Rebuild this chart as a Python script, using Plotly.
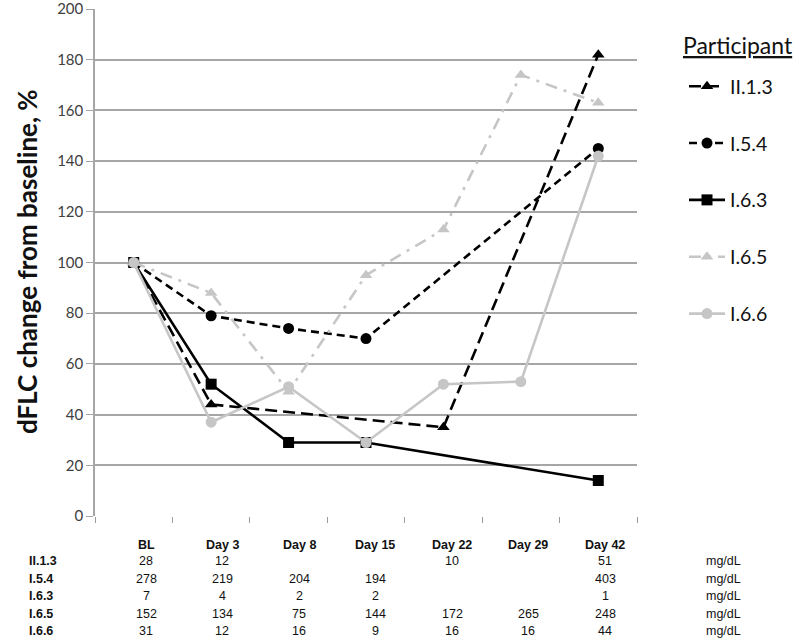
import plotly.graph_objects as go

categories = ["BL", "Day 3", "Day 8", "Day 15", "Day 22", "Day 29", "Day 42"]
participants = ["II.1.3", "I.5.4", "I.6.3", "I.6.5", "I.6.6"]

pct_II13 = [100, 44, None, None, 35, None, 182]
pct_I54 = [100, 79, 74, 70, None, None, 145]
pct_I63 = [100, 52, 29, 29, None, None, 14]
pct_I65 = [100, 88, 49, 95, 113, 174, 163]
pct_I66 = [100, 37, 51, 29, 52, 53, 142]

tbl_II13 = ["28", "12", "", "", "10", "", "51"]
tbl_I54 = ["278", "219", "204", "194", "", "", "403"]
tbl_I63 = ["7", "4", "2", "2", "", "", "1"]
tbl_I65 = ["152", "134", "75", "144", "172", "265", "248"]
tbl_I66 = ["31", "12", "16", "9", "16", "16", "44"]
unit = "mg/dL"

series = [pct_II13, pct_I54, pct_I63, pct_I65, pct_I66]
tables = [tbl_II13, tbl_I54, tbl_I63, tbl_I65, tbl_I66]

BLACK = "#000000"
GRAY = "#c6c6c6"
styles = [
    dict(color=BLACK, dash="12px,6px", symbol="triangle-up"),
    dict(color=BLACK, dash="8px,5px", symbol="circle"),
    dict(color=BLACK, dash="solid", symbol="square"),
    dict(color=GRAY, dash="12px,7px,3px,7px", symbol="triangle-up"),
    dict(color=GRAY, dash="solid", symbol="circle"),
]

fig = go.Figure()
for name, vals, st in zip(participants, series, styles):
    fig.add_trace(go.Scatter(
        x=categories, y=vals, name=name, mode="lines+markers",
        connectgaps=True, legendgroup=name,
        line=dict(color=st["color"], dash=st["dash"], width=2.6),
        marker=dict(symbol=st["symbol"], size=11, color=st["color"]),
    ))

# plot area pixels: x 95..637, y 9..516
L, R, T, B = 95, 637, 9, 516
W, H = 800, 642

def px_x(p):
    return (p - L) / (R - L)

def px_y(p):
    return (B - p) / (B - T)

ann = []
tfont = dict(family="Liberation Sans Narrow, Liberation Sans, Arial", size=12.5, color="#111")
col_px = [146, 222, 299, 375, 452, 528, 605]
header_y = 545
row_ys = [561, 579, 596, 614, 631]
for c, xp in zip(categories, col_px):
    ann.append(dict(text="<b>%s</b>" % c, x=px_x(xp), y=px_y(header_y), xref="paper", yref="paper",
                    showarrow=False, font=tfont, xanchor="center", yanchor="middle"))
for name, row, yp in zip(participants, tables, row_ys):
    ann.append(dict(text="<b>%s</b>" % name, x=px_x(27), y=px_y(yp), xref="paper", yref="paper",
                    showarrow=False, font=tfont, xanchor="left", yanchor="middle"))
    for v, xp in zip(row, col_px):
        if v:
            ann.append(dict(text=v, x=px_x(xp), y=px_y(yp), xref="paper", yref="paper",
                            showarrow=False, font=tfont, xanchor="center", yanchor="middle"))
    ann.append(dict(text=unit, x=px_x(723), y=px_y(yp), xref="paper", yref="paper",
                    showarrow=False, font=tfont, xanchor="center", yanchor="middle"))

ann.append(dict(text="<b>dFLC change from baseline, %</b>", x=px_x(27), y=px_y(262),
                xref="paper", yref="paper", showarrow=False, textangle=-90,
                font=dict(family="Lato, Open Sans, Liberation Sans", size=26, color="#111"),
                xanchor="center", yanchor="middle"))

ann.append(dict(text="<u>Participant</u>", x=px_x(681), y=px_y(45),
                xref="paper", yref="paper", showarrow=False,
                font=dict(family="Lato, Open Sans, Liberation Sans", size=23, color="#111"),
                xanchor="left", yanchor="middle"))

fig.update_layout(
    width=W, height=H,
    margin=dict(l=L, r=W - R, t=T, b=H - B),
    paper_bgcolor="white", plot_bgcolor="white",
    showlegend=True,
    legend=dict(
        x=px_x(684), y=px_y(67), xanchor="left", yanchor="top",
        font=dict(family="Lato, Open Sans, Liberation Sans", size=19.5, color="#111"),
        tracegroupgap=28.5, itemwidth=36,
        bgcolor="rgba(0,0,0,0)",
    ),
    xaxis=dict(
        type="category", showticklabels=False, ticks="outside", tickson="boundaries",
        ticklen=6, tickcolor="#9a9a9a", showgrid=False, showline=False, zeroline=False,
        range=[-0.5, 6.5], automargin=False,
    ),
    yaxis=dict(
        range=[0, 200], dtick=20, showgrid=True, gridcolor="#a6a6a6", gridwidth=1.5,
        showline=True, linecolor="#a6a6a6", linewidth=1.5, ticks="outside", ticklen=7,
        tickcolor="#a6a6a6", zeroline=False, ticklabeloverflow="allow", automargin=False,
        tickfont=dict(family="Lato, Open Sans, Liberation Sans", size=15, color="#404040"),
    ),
    annotations=ann,
)

fig.write_html("out.html", config={"displayModeBar": False},
               post_script="document.body.style.margin='0';document.body.style.overflow='hidden';")
